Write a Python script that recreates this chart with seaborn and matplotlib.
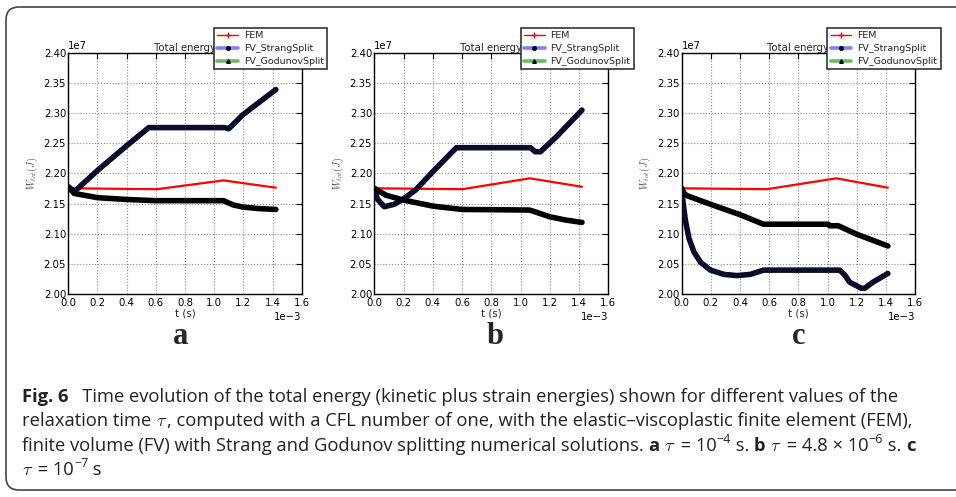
import numpy as np
import pandas as pd
import seaborn as sns
import matplotlib
matplotlib.use("Agg")
import matplotlib.pyplot as plt
from matplotlib.lines import Line2D
from matplotlib.patches import FancyBboxPatch
from matplotlib.transforms import IdentityTransform

# ---------------- data (t in ms, energy in 1e7 J) ----------------
T_SCALE = 1e-3
E_SCALE = 1e7

# panel a  (tau = 1e-4 s)
t_fem_a = [0.0, 0.609, 1.064, 1.423]
e_fem_a = [2.1755, 2.174, 2.1886, 2.1765]
t_strang_a = [0.0, 0.041, 0.2, 0.4, 0.552, 1.075, 1.10, 1.195, 1.423]
e_strang_a = [2.178, 2.170, 2.205, 2.246, 2.276, 2.276, 2.274, 2.297, 2.339]
t_godunov_a = [0.0, 0.04, 0.2, 0.4, 0.6, 1.064, 1.13, 1.195, 1.30, 1.423]
e_godunov_a = [2.178, 2.167, 2.160, 2.157, 2.155, 2.155, 2.148, 2.1445, 2.142, 2.1405]

# panel b  (tau = 4.8e-6 s)
t_fem_b = [0.0, 0.602, 1.064, 1.42]
e_fem_b = [2.1755, 2.174, 2.192, 2.178]
t_strang_b = [0.0, 0.02, 0.068, 0.136, 0.2, 0.284, 0.4, 0.561, 1.068, 1.10, 1.136, 1.25, 1.42]
e_strang_b = [2.1755, 2.158, 2.145, 2.149, 2.158, 2.173, 2.203, 2.2427, 2.2427, 2.236, 2.236, 2.262, 2.305]
t_godunov_b = [0.0, 0.08, 0.2, 0.4, 0.6, 1.057, 1.075, 1.198, 1.307, 1.42]
e_godunov_b = [2.1755, 2.164, 2.156, 2.146, 2.1405, 2.1395, 2.1385, 2.1285, 2.123, 2.119]

# panel c  (tau = 1e-7 s)
t_fem_c = [0.0, 0.584, 1.061, 1.414]
e_fem_c = [2.1755, 2.174, 2.192, 2.1765]
t_strang_c = [0.0, 0.011, 0.027, 0.05, 0.084, 0.13, 0.198, 0.289, 0.38, 0.47, 0.561,
              1.084, 1.118, 1.152, 1.232, 1.255, 1.311, 1.414]
e_strang_c = [2.1755, 2.148, 2.120, 2.0925, 2.070, 2.0528, 2.040, 2.033, 2.031, 2.033, 2.040,
              2.040, 2.032, 2.020, 2.010, 2.010, 2.020, 2.0345]
t_godunov_c = [0.0, 0.02, 0.04, 0.198, 0.398, 0.561, 1.005, 1.015, 1.073, 1.2, 1.414]
e_godunov_c = [2.175, 2.166, 2.163, 2.149, 2.132, 2.116, 2.116, 2.1135, 2.1135, 2.0995, 2.080]

panel_letters = ["a", "b", "c"]
series_labels = ["FEM", "FV_StrangSplit", "FV_GodunovSplit"]
x_ticks = [0.0, 0.2, 0.4, 0.6, 0.8, 1.0, 1.2, 1.4, 1.6]
y_ticks = [2.00, 2.05, 2.10, 2.15, 2.20, 2.25, 2.30, 2.35, 2.40]

panels = [
    (t_fem_a, e_fem_a, t_strang_a, e_strang_a, t_godunov_a, e_godunov_a),
    (t_fem_b, e_fem_b, t_strang_b, e_strang_b, t_godunov_b, e_godunov_b),
    (t_fem_c, e_fem_c, t_strang_c, e_strang_c, t_godunov_c, e_godunov_c),
]

# ---------------- style ----------------
sns.set_theme(style="white")
plt.rcParams["font.family"] = ["DejaVu Sans"]
plt.rcParams["axes.unicode_minus"] = True

W, H = 956, 497
fig = plt.figure(figsize=(W / 100, H / 100), dpi=100)
fig.patch.set_facecolor("white")

# rounded frame
frame = FancyBboxPatch((6, 7), 1100, 483, boxstyle="round,pad=0,rounding_size=13",
                       transform=IdentityTransform(), facecolor="none",
                       edgecolor="#444444", linewidth=1.2)
fig.add_artist(frame)

ax_px = [(68.3, 301.7), (374.3, 608.3), (681.7, 915.0)]
top_px, bot_px = 52.7, 294.3
letter_x = [181, 495, 799]

RED = "#ff0000"
STRANG_COL = "#0b0b2a"
GOD_COL = "#000000"
FS = 7.3
LFS = 6.8

for i, (l, r) in enumerate(ax_px):
    ax = fig.add_axes([l / W, 1 - bot_px / H, (r - l) / W, (bot_px - top_px) / H])
    tf, ef, ts, es, tg, eg = panels[i]
    sns.lineplot(x=np.array(tf) * T_SCALE, y=np.array(ef) * E_SCALE, ax=ax,
                 color=RED, lw=1.6, zorder=3)
    sns.lineplot(x=np.array(ts) * T_SCALE, y=np.array(es) * E_SCALE, ax=ax,
                 color=STRANG_COL, lw=4.0, zorder=4, solid_capstyle="round",
                 solid_joinstyle="round")
    sns.lineplot(x=np.array(tg) * T_SCALE, y=np.array(eg) * E_SCALE, ax=ax,
                 color=GOD_COL, lw=4.0, zorder=4, solid_capstyle="round",
                 solid_joinstyle="round")
    ax.set_xlim(0, 1.6e-3)
    ax.set_ylim(2.0e7, 2.4e7)
    ax.set_xticks(np.array(x_ticks) * T_SCALE)
    ax.set_yticks(np.array(y_ticks) * E_SCALE)
    ax.ticklabel_format(axis="both", style="sci", scilimits=(0, 0), useMathText=False)
    ax.tick_params(direction="in", length=4, width=0.8, top=True, right=True,
                   labelsize=FS, colors="black")
    ax.tick_params(axis="y", pad=1.5)
    ax.tick_params(axis="x", pad=2.6)
    ax.xaxis.get_offset_text().set_fontsize(FS)
    ax.yaxis.get_offset_text().set_fontsize(FS)
    ax.grid(True, ls=":", color="#8a8a8a", lw=0.8)
    for sp in ax.spines.values():
        sp.set_color("black")
        sp.set_linewidth(1.0)
    ax.set_title("Total energy", fontsize=FS, pad=1.5)
    ax.set_xlabel("t (s)", fontsize=FS, labelpad=0.5)
    ax.set_ylabel(r"$W_{tot}(J)$", fontsize=7.3, color="#555555", labelpad=3,
                  math_fontfamily="cm")
    handles = [
        Line2D([], [], color=RED, lw=1.0, marker="+", markersize=4, mec=RED),
        Line2D([], [], color="#7f7fff", lw=2.6, marker="o", markersize=2.6,
               mfc="black", mec="black"),
        Line2D([], [], color="#66bb66", lw=2.6, marker="^", markersize=2.6,
               mfc="black", mec="black"),
    ]
    leg = ax.legend(handles, series_labels, loc="upper right",
                    bbox_to_anchor=((r + 25.5) / W, 1 - 28 / H),
                    bbox_transform=fig.transFigure, fontsize=LFS, frameon=True,
                    fancybox=False, framealpha=1, edgecolor="#333333",
                    borderaxespad=0, borderpad=0.36, labelspacing=0.4,
                    handlelength=2.2, handletextpad=0.6, numpoints=1)
    leg.get_frame().set_linewidth(1.2)
    fig.text(letter_x[i] / W, 1 - 337 / H, panel_letters[i], ha="center", va="center",
             fontsize=22, fontweight="bold", family=["Liberation Serif", "DejaVu Serif"])

# ---------------- caption ----------------
CAP_FAMILY = ["Open Sans", "DejaVu Sans"]
CAP_FS = 13.2
renderer = fig.canvas.get_renderer()


def _w(s, **kw):
    t = fig.text(0, 0, s, **kw)
    w = t.get_window_extent(renderer).width
    t.remove()
    return w


def style_kw(st):
    if st == "b":
        return dict(fontsize=CAP_FS, fontweight="bold", family=CAP_FAMILY, color="#222222")
    if st == "m":
        return dict(fontsize=CAP_FS, math_fontfamily="cm", color="#222222")
    if st == "s":
        return dict(fontsize=CAP_FS * 0.68, family=CAP_FAMILY, color="#222222")
    return dict(fontsize=CAP_FS, family=CAP_FAMILY, color="#222222")


def advance(s, st):
    kw = style_kw(st)
    if st == "m":
        return _w(s, **kw)
    return _w("|" + s + "|", **kw) - _w("||", **kw)


def rich_line(x, y_top, pieces):
    for s, st in pieces:
        kw = style_kw(st)
        yy = y_top - (CAP_FS * 0.42 * 100 / 72 if st == "s" else 0)
        fig.text(x / W, 1 - yy / H, s, ha="left", va="baseline", **kw)
        x += advance(s, st)


cap_lines = [
    [("Fig. 6", "b"),
     ("   Time evolution of the total energy (kinetic plus strain energies) shown for different values of the", "r")],
    [("relaxation time ", "r"), (r"$\tau$", "m"),
     (", computed with a CFL number of one, with the elastic\u2013viscoplastic finite element (FEM),", "r")],
    [("finite volume (FV) with Strang and Godunov splitting numerical solutions. ", "r"),
     ("a", "b"), (" ", "r"), (r"$\tau$", "m"), (" = 10", "r"), ("\u22124", "s"), (" s. ", "r"),
     ("b", "b"), (" ", "r"), (r"$\tau$", "m"), (" = 4.8 \u00d7 10", "r"), ("\u22126", "s"),
     (" s. ", "r"), ("c", "b")],
    [(r"$\tau$", "m"), (" = 10", "r"), ("\u22127", "s"), (" s", "r")],
]
baselines = [402, 426, 451, 475]
for pieces, yb in zip(cap_lines, baselines):
    rich_line(22, yb, pieces)

fig.savefig("out.png", dpi=100)
